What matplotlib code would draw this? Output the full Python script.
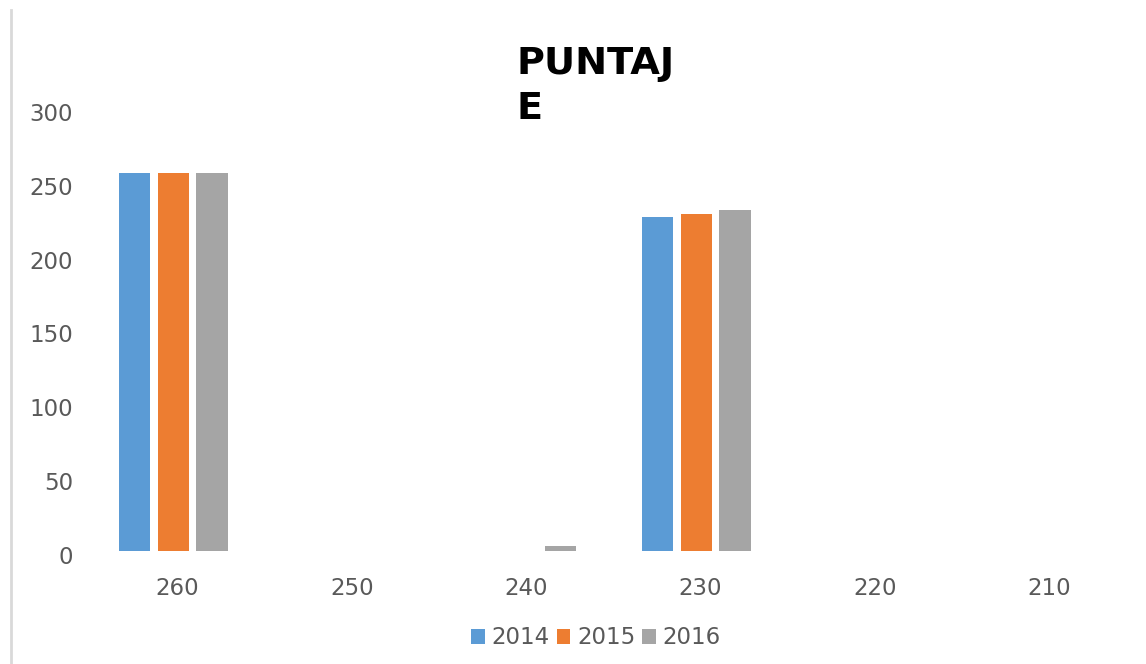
import matplotlib
matplotlib.use("Agg")
import matplotlib.pyplot as plt
import matplotlib.transforms as mtransforms
from matplotlib.lines import Line2D
import numpy as np

categories = ["260", "250", "240", "230", "220", "210"]
series_names = ["2014", "2015", "2016"]
v2014 = [256, 0, 0, 226, 0, 0]
v2015 = [256, 0, 0, 228, 0, 0]
v2016 = [256, 0, 3.4, 231, 0, 0]
colors = ["#5B9BD5", "#ED7D31", "#A5A5A5"]
yticks = [0, 50, 100, 150, 200, 250, 300]

W, H, DPI = 1146, 664, 100
fig = plt.figure(figsize=(W / DPI, H / DPI), dpi=DPI)
left, right, top, bottom = 86.3, 1132.3, 108, 551
ax = fig.add_axes([left / W, 1 - bottom / H, (right - left) / W, (bottom - top) / H])

x = np.arange(len(categories))
width = 0.178
offsets = [-0.221, 0.0, 0.221]
for vals, off, c, name in zip([v2014, v2015, v2016], offsets, colors, series_names):
    ax.bar(x + off, vals, width=width, color=c, label=name)

ax.set_xlim(-0.5, len(categories) - 0.5)
ax.set_ylim(0, 300)
ax.set_yticks(yticks)
ax.set_xticks(x)
ax.set_xticklabels(categories)
for s in ax.spines.values():
    s.set_visible(False)
ax.tick_params(axis="both", length=0, labelsize=16.5, labelcolor="#595959")
ax.tick_params(axis="y", pad=9.5)
ax.tick_params(axis="x", pad=19)

for lab in ax.get_yticklabels():
    lab.set_transform(lab.get_transform() + mtransforms.ScaledTranslation(0, -4 / DPI, fig.dpi_scale_trans))
for lab in ax.get_xticklabels():
    lab.set_transform(lab.get_transform() + mtransforms.ScaledTranslation(4 / DPI, 0, fig.dpi_scale_trans))

fig.text(517 / W, 1 - 46 / H, "PUNTAJ\nE", fontsize=27.5, fontweight="bold", color="black",
         ha="left", va="top", linespacing=1.33)

leg = fig.legend(loc="center", bbox_to_anchor=(596 / W, 1 - 638 / H), ncol=3, frameon=False,
                 fontsize=16.5, handlelength=0.6, handleheight=0.6, handletextpad=0.3,
                 columnspacing=0.3, labelcolor="#595959")

fig.add_artist(Line2D([11 / W, 11 / W], [0, 1 - 10 / H], transform=fig.transFigure,
                      color="#D9D9D9", linewidth=2))

fig.savefig("out.png", dpi=DPI)
